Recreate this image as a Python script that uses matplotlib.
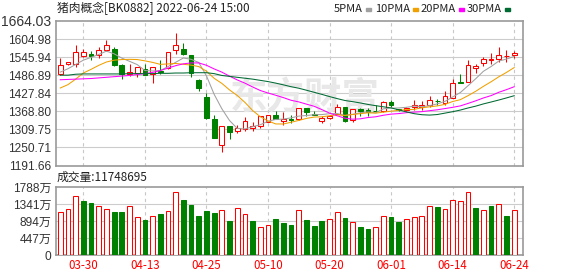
import matplotlib
matplotlib.use('Agg')
import matplotlib.pyplot as plt
from matplotlib.patches import Rectangle
import numpy as np

plt.rcParams['font.family'] = ['Liberation Sans', 'Noto Sans CJK SC']
CJK = ['Noto Sans CJK SC', 'DejaVu Sans']

dates = ["03-25", "03-28", "03-29", "03-30", "03-31", "04-01", "04-06", "04-07", "04-08", "04-11",
         "04-12", "04-13", "04-14", "04-15", "04-18", "04-19", "04-20", "04-21", "04-22", "04-25",
         "04-26", "04-27", "04-28", "04-29", "05-05", "05-06", "05-09", "05-10", "05-11", "05-12",
         "05-13", "05-16", "05-17", "05-18", "05-19", "05-20", "05-23", "05-24", "05-25", "05-26",
         "05-27", "05-30", "05-31", "06-01", "06-02", "06-06", "06-07", "06-08", "06-09", "06-10",
         "06-13", "06-14", "06-15", "06-16", "06-17", "06-20", "06-21", "06-22", "06-23", "06-24"]

opens = [1491.4, 1524.2, 1524.2, 1550.4, 1555.9, 1553.7, 1570.1, 1571.2, 1518.7, 1490.3,
         1494.6, 1507.8, 1489.2, 1500.0, 1511.0, 1570.1, 1571.2, 1551.5, 1470.6, 1417.0,
         1344.8, 1257.4, 1320.8, 1305.5, 1310.9, 1313.0, 1321.9, 1335.0, 1356.9, 1338.3,
         1344.8, 1344.8, 1380.9, 1360.1, 1338.3, 1347.0, 1360.1, 1382.0, 1339.4, 1377.6,
         1374.4, 1370.0, 1368.9, 1398.4, 1376.5, 1373.3, 1383.1, 1383.0, 1389.7, 1402.8,
         1396.2, 1412.6, 1464.0, 1464.0, 1508.9, 1527.4, 1537.3, 1540.6, 1549.5, 1553.7]
highs = [1543.8, 1531.5, 1584.3, 1571.2, 1564.6, 1579.9, 1600.7, 1579.9, 1522.0, 1524.2,
         1514.3, 1522.0, 1513.2, 1535.0, 1563.5, 1625.9, 1590.9, 1552.5, 1475.0, 1429.0,
         1358.0, 1320.8, 1322.0, 1325.2, 1350.3, 1332.8, 1353.0, 1357.0, 1371.0, 1366.7,
         1358.0, 1381.0, 1381.0, 1371.0, 1352.5, 1358.0, 1394.0, 1384.0, 1377.0, 1380.0,
         1380.0, 1389.7, 1401.0, 1407.0, 1377.0, 1382.0, 1405.0, 1402.8, 1420.3, 1410.4,
         1434.5, 1472.8, 1489.2, 1535.1, 1524.2, 1546.0, 1560.2, 1579.9, 1567.9, 1564.6]
lows = [1489.0, 1520.0, 1513.2, 1547.1, 1537.3, 1543.8, 1565.7, 1518.0, 1475.0, 1483.7,
        1481.5, 1487.0, 1460.7, 1491.0, 1505.6, 1557.0, 1552.6, 1481.5, 1434.5, 1345.0,
        1281.0, 1235.5, 1279.2, 1296.7, 1305.5, 1304.4, 1314.0, 1333.0, 1344.0, 1323.0,
        1330.6, 1341.0, 1354.7, 1357.0, 1330.6, 1345.0, 1359.0, 1335.0, 1335.0, 1354.7,
        1354.7, 1366.0, 1367.0, 1382.0, 1371.0, 1369.0, 1372.2, 1372.0, 1383.0, 1390.8,
        1390.8, 1412.0, 1461.0, 1463.0, 1492.5, 1516.5, 1522.0, 1529.6, 1530.7, 1543.8]
closes = [1520.9, 1529.6, 1563.5, 1561.3, 1550.4, 1567.9, 1584.3, 1519.8, 1491.4, 1497.9,
          1514.3, 1487.0, 1513.2, 1497.0, 1563.5, 1584.3, 1557.0, 1492.5, 1444.3, 1345.9,
          1282.5, 1320.8, 1300.0, 1315.3, 1337.2, 1319.6, 1352.5, 1356.9, 1344.8, 1343.5,
          1339.4, 1380.9, 1366.7, 1358.0, 1346.0, 1353.6, 1383.1, 1336.1, 1376.5, 1371.0,
          1367.8, 1368.9, 1400.6, 1388.6, 1373.0, 1378.7, 1388.6, 1389.5, 1407.2, 1401.7,
          1419.2, 1460.7, 1461.8, 1518.7, 1516.5, 1540.6, 1538.4, 1551.5, 1550.8, 1560.2]

# volume in units of 万
volumes = [1139, 1218, 1543, 1411, 1359, 1297, 1218, 1122, 1122, 1297,
           1008, 912, 1034, 1069, 1166, 1665, 1437, 1306, 1017, 1148,
           1096, 1192, 885, 1245, 1087, 885, 745, 798, 938, 833,
           780, 1192, 912, 754, 885, 955, 1139, 964, 877, 727,
           675, 745, 1034, 990, 859, 955, 1008, 1034, 1297, 1253,
           1218, 1455, 1429, 1665, 1227, 1192, 1280, 1350, 1017, 1175]

# moving average values before enough closes are in the window
ma5_head = [1497, 1508, 1522, 1536]
ma10_head = [1445, 1456, 1474, 1494, 1506, 1519, 1530, 1536, 1538]
ma20_head = [1472, 1473, 1474, 1475, 1476, 1478, 1480, 1482, 1484, 1486,
             1489, 1492, 1496, 1502, 1510, 1518, 1524, 1527, 1527]
ma30_head = [1487, 1487, 1490, 1491, 1491, 1491, 1491, 1491, 1491, 1492,
             1492, 1492, 1492, 1493, 1493, 1494, 1494, 1495, 1495, 1495,
             1492, 1486, 1483, 1480, 1477, 1474, 1470, 1466, 1461]

price_ticks = [1191.66, 1250.71, 1309.75, 1368.80, 1427.84, 1486.89, 1545.94, 1604.98, 1664.03]
vol_ticks = [0, 447, 894, 1341, 1788]
label_idx = [3, 11, 19, 27, 35, 43, 51, 59]

RED = '#ff0000'
GREEN = '#008000'
GRID = '#cccccc'
ma_styles = [(5, ma5_head, '#a0a0a0', '5PMA'), (10, ma10_head, '#f0a000', '10PMA'),
             (20, ma20_head, '#ff00ff', '20PMA'), (30, ma30_head, '#006a33', '30PMA')]

W, H = 578, 276


def box(l, t, r, b):
    return [l / W, 1 - b / H, (r - l) / W, (b - t) / H]


def moving_avg(n, head):
    c = np.array(closes)
    out = list(head)
    for i in range(n - 1, len(c)):
        out.append(c[i - n + 1:i + 1].mean())
    return np.array(out)


fig = plt.figure(figsize=(W / 100, H / 100), dpi=100)
ax = fig.add_axes(box(55.5, 21, 522.5, 165.5))
axv = fig.add_axes(box(55.5, 187, 522.5, 255))

x = np.arange(len(dates))
o, h, l, c = map(np.array, (opens, highs, lows, closes))
up = c >= o

for a in (ax, axv):
    a.set_xlim(-0.62, 60.08)
    for s in a.spines.values():
        s.set_color('#999999')
        s.set_linewidth(1.2)
    for k in label_idx:
        a.axvline(k, color='#c8c8c8', lw=0.8, dashes=(3, 3), zorder=0)
    a.tick_params(length=0, labelcolor='#333333')

# price panel
ax.set_ylim(price_ticks[0], price_ticks[-1])
ax.set_yticks(price_ticks)
ax.set_yticklabels(['%.2f' % v for v in price_ticks], fontsize=8.6)
ax.get_yticklabels()[-1].set_fontsize(10)
ax.tick_params(axis='y', pad=3)
ax.set_xticks([])
for v in price_ticks[1:-1]:
    ax.axhline(v, color=GRID, lw=0.8, zorder=0)

ax.text(0.534, 0.467, '东方财富', transform=ax.transAxes, fontsize=27, color='#e8e8e8',
        ha='center', va='center', family=CJK, fontweight='bold', zorder=0.5)

ax.vlines(x, l, h, colors=np.where(up, RED, GREEN), lw=0.75, zorder=2)
body_h = np.maximum(np.abs(c - o), 1.2)
ax.bar(x, body_h, bottom=np.minimum(o, c), width=0.62,
       color=np.where(up, 'white', GREEN), edgecolor=np.where(up, RED, GREEN),
       linewidth=0.75, zorder=3)

for n, head, col, name in ma_styles:
    ax.plot(x, moving_avg(n, head), color=col, lw=0.75, zorder=4)

# volume panel
prev = np.concatenate([[o[0]], c[:-1]])
vup = c >= prev
axv.set_ylim(0, 1788)
axv.set_yticks(vol_ticks)
axv.set_yticklabels(['0'] + ['%d万' % v for v in vol_ticks[1:]], fontsize=8.6)
axv.tick_params(axis='y', pad=3)
for v in vol_ticks[1:-1]:
    axv.axhline(v, color=GRID, lw=0.8, zorder=0)
axv.bar(x, volumes, width=0.62, color=np.where(vup, 'white', GREEN),
        edgecolor=np.where(vup, RED, GREEN), linewidth=0.75, zorder=3)
axv.set_xticks(label_idx)
axv.set_xticklabels([dates[k] for k in label_idx], fontsize=8.3, color=RED, family=CJK)
axv.tick_params(axis='x', pad=3)

# header texts
fig.text(57 / W, 1 - 8.5 / H, '猪肉概念[BK0882] 2022-06-24 15:00', fontsize=8.5,
         family=CJK, color='#222222', va='center', ha='left')
fig.text(57 / W, 1 - 177.5 / H, '成交量:11748695', fontsize=8.5,
         family=CJK, color='#222222', va='center', ha='left')

leg_end = [363, 410, 456, 502]
for (n, head, col, name), xe in zip(ma_styles, leg_end):
    fig.text(xe / W, 1 - 8.5 / H, name, fontsize=8.0, family=CJK, color='#222222',
             va='center', ha='right')
    fig.patches.append(Rectangle(((xe + 3) / W, 1 - 11 / H), 5 / W, 3.5 / H,
                                 transform=fig.transFigure, color=col))

fig.savefig('out.png', dpi=100)
